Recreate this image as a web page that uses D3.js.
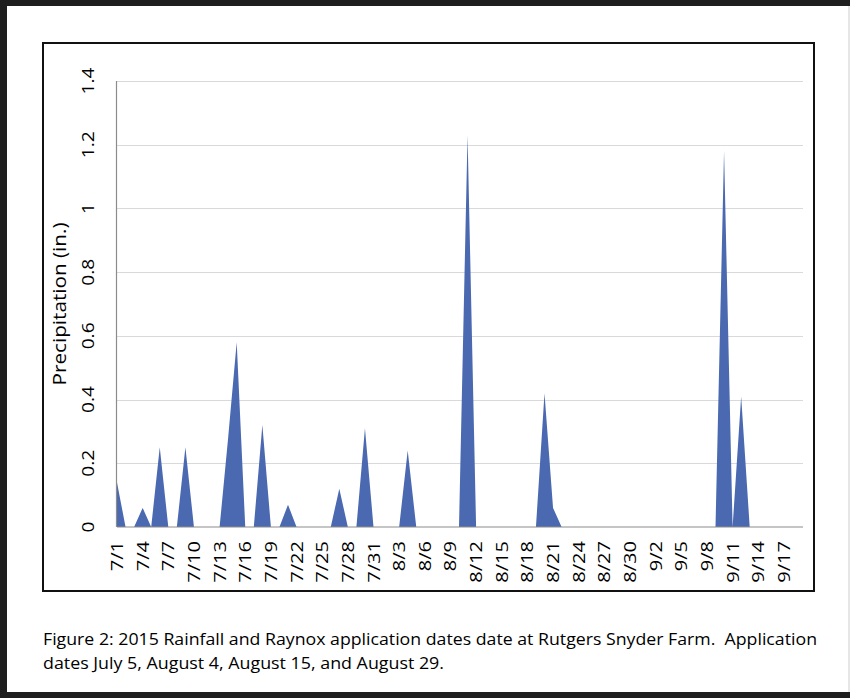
<!DOCTYPE html>
<meta charset="utf-8">
<html>
<head>
  <script src="https://d3js.org/d3.v7.min.js"></script>
  <style>
    body { margin: 0; background: #fff; }
    svg text { font-family: 'Open Sans', sans-serif; fill: #000; }
    .grid line { stroke: #d9d9d9; stroke-width: 1; }
    .x-axis text, .y-axis text { font-size: 16px; }
    .caption { white-space: pre; }
  </style>
</head>
<body>
  <script>
    // Daily rainfall, 7/1 to 9/19 2015 (in.)
    var startDay = "2015-07-01";
    var rain = [
      0.14, 0, 0, 0.06, 0, 0.25, 0, 0, 0.25, 0,      // 7/1 - 7/10
      0, 0, 0, 0.28, 0.58, 0, 0, 0.32, 0, 0,         // 7/11 - 7/20
      0.07, 0, 0, 0, 0, 0, 0.12, 0, 0, 0.31,         // 7/21 - 7/30
      0, 0, 0, 0, 0.24, 0, 0, 0, 0, 0,               // 7/31 - 8/9
      0, 1.23, 0, 0, 0, 0, 0, 0, 0, 0,               // 8/10 - 8/19
      0.42, 0.06, 0, 0, 0, 0, 0, 0, 0, 0,            // 8/20 - 8/29
      0, 0, 0, 0, 0, 0, 0, 0, 0, 0,                  // 8/30 - 9/8
      0, 1.18, 0, 0.41, 0, 0, 0, 0, 0, 0,            // 9/9 - 9/18
      0                                               // 9/19
    ];
    var xTickLabels = ["7/1", "7/4", "7/7", "7/10", "7/13", "7/16", "7/19", "7/22", "7/25", "7/28",
      "7/31", "8/3", "8/6", "8/9", "8/12", "8/15", "8/18", "8/21", "8/24", "8/27", "8/30",
      "9/2", "9/5", "9/8", "9/11", "9/14", "9/17"];
    var yTicks = [0, 0.2, 0.4, 0.6, 0.8, 1, 1.2, 1.4];
    var yTitle = "Precipitation (in.)";
    var caption = ["Figure 2: 2015 Rainfall and Raynox application dates date at Rutgers Snyder Farm.  Application",
      "dates July 5, August 4, August 15, and August 29."];

    var W = 850, H = 698;
    var plot = { left: 117, right: 801, top: 81, bottom: 527, gridRight: 803 };

    var parse = d3.timeParse("%Y-%m-%d");
    var t0 = parse(startDay);
    var dates = d3.timeDay.range(t0, d3.timeDay.offset(t0, rain.length));
    var data = dates.map((d, i) => ({ date: d, v: rain[i] }));
    var fmt = d3.timeFormat("%-m/%-d");

    var svg = d3.select("body").append("svg")
      .attr("width", W).attr("height", H);

    // page frame
    svg.append("rect").attr("x", 0).attr("y", 0).attr("width", W).attr("height", 6).attr("fill", "#1e1e1e");
    svg.append("rect").attr("x", 0).attr("y", 0).attr("width", 7).attr("height", H).attr("fill", "#1e1e1e");
    svg.append("rect").attr("x", 0).attr("y", 692).attr("width", W).attr("height", 6).attr("fill", "#1e1e1e");
    svg.append("rect").attr("x", 848).attr("y", 6).attr("width", 2).attr("height", 686).attr("fill", "#e6e6e6");

    // chart frame
    svg.append("rect")
      .attr("x", 43).attr("y", 43).attr("width", 771).attr("height", 548)
      .attr("fill", "none").attr("stroke", "#111").attr("stroke-width", 2);

    var x = d3.scaleTime()
      .domain([dates[0], dates[dates.length - 1]])
      .range([plot.left, plot.right]);

    var y = d3.scaleLinear()
      .domain([0, 1.4])
      .range([plot.bottom, plot.top]);

    //Gridlines
    svg.append("g").attr("class", "grid")
      .selectAll("line")
      .data(yTicks.filter(d => d > 0))
      .enter().append("line")
      .attr("x1", plot.left).attr("x2", plot.gridRight)
      .attr("y1", d => Math.round(y(d)) + 0.5).attr("y2", d => Math.round(y(d)) + 0.5);

    //Area
    var area = d3.area()
      .x(d => x(d.date))
      .y0(y(0))
      .y1(d => y(d.v));

    svg.append("path")
      .datum(data)
      .attr("d", area)
      .attr("fill", "#4a69b1");

    //Axis lines
    svg.append("line")
      .attr("x1", plot.left).attr("x2", plot.gridRight)
      .attr("y1", y(0)).attr("y2", y(0))
      .attr("stroke", "#8c8c8c").attr("stroke-width", 1.2);
    svg.append("line")
      .attr("x1", plot.left - 0.5).attr("x2", plot.left - 0.5)
      .attr("y1", plot.top).attr("y2", y(0))
      .attr("stroke", "#8c8c8c").attr("stroke-width", 1.2);

    //Y tick labels (rotated)
    svg.append("g").attr("class", "y-axis")
      .selectAll("text")
      .data(yTicks)
      .enter().append("text")
      .attr("transform", d => `translate(94, ${y(d)}) rotate(-90) scale(1.2, 1)`)
      .attr("text-anchor", "middle")
      .text(d => d3.format("")(d));

    //X tick labels (rotated)
    var tickDates = xTickLabels.map(s => data.find(d => fmt(d.date) === s).date);
    svg.append("g").attr("class", "x-axis")
      .selectAll("text")
      .data(tickDates)
      .enter().append("text")
      .attr("transform", d => `translate(${x(d) + 6}, 541) rotate(-90) scale(1.25, 1)`)
      .attr("text-anchor", "end")
      .text(d => fmt(d));

    //Y title
    svg.append("text")
      .attr("transform", `translate(66, ${(plot.top + plot.bottom) / 2}) rotate(-90) scale(1.15, 1)`)
      .attr("text-anchor", "middle")
      .style("font-size", "18px")
      .text(yTitle);

    //Caption
    svg.selectAll(".caption")
      .data(caption)
      .enter().append("text")
      .attr("class", "caption")
      .attr("x", 43)
      .attr("y", (d, i) => 645 + i * 24)
      .style("font-size", "17px")
      .attr("textLength", (d, i) => i === 0 ? 774 : 401)
      .attr("lengthAdjust", "spacingAndGlyphs")
      .text(d => d);
  </script>
</body>
</html>
